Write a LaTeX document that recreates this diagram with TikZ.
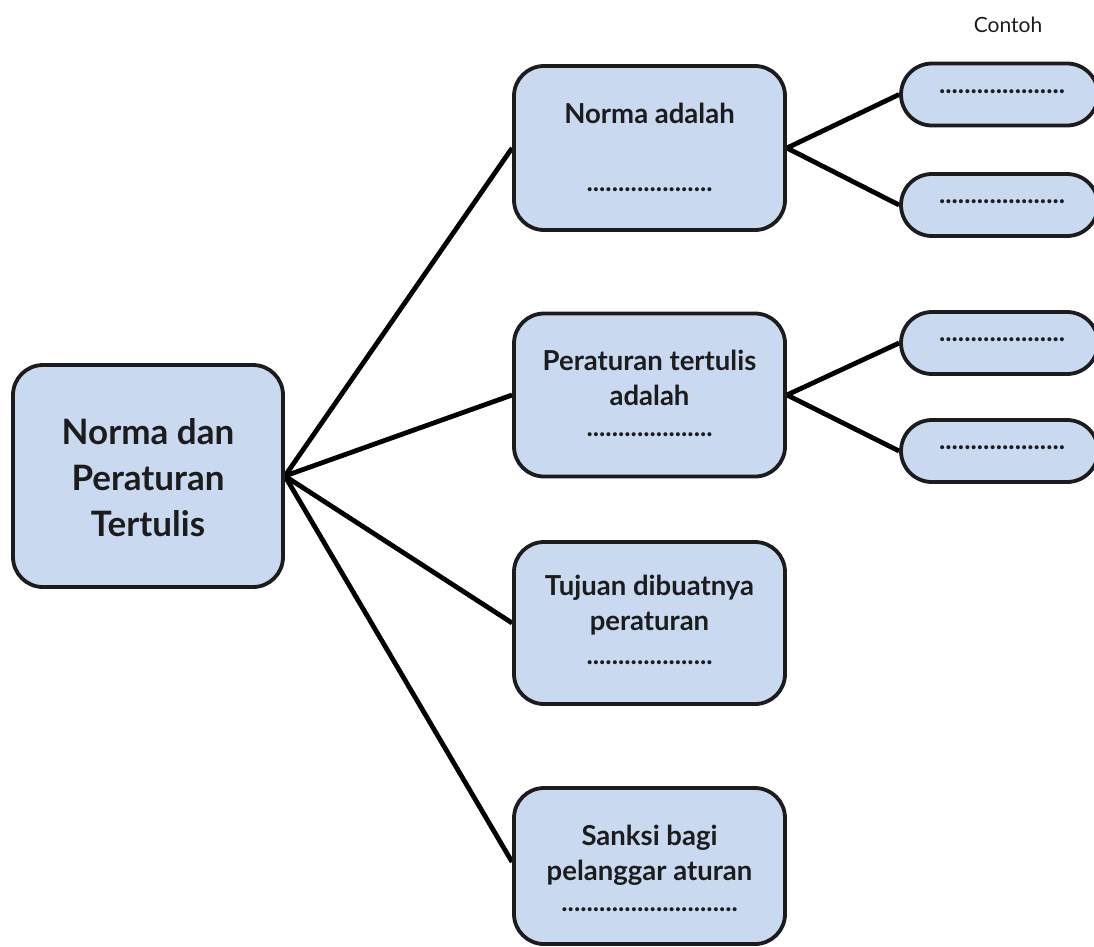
\documentclass[tikz,border=0pt]{standalone}
\usepackage{fontspec}
\setmainfont{Lato}
\usetikzlibrary{backgrounds}
\definecolor{boxfill}{HTML}{C9D9F0}
\definecolor{boxline}{HTML}{1C1C1C}
\begin{document}
\begin{tikzpicture}[x=1pt,y=-1pt,
  box/.style={draw=boxline, fill=boxfill, line width=3.8pt, rounded corners=30pt, inner sep=0pt},
  pill/.style={draw=boxline, fill=boxfill, line width=3.8pt, rounded corners=31pt, inner sep=0pt, minimum width=197pt, minimum height=62pt},
  link/.style={draw=black, line width=4.8pt},
  bigtxt/.style={font=\fontsize{35}{46}\selectfont\bfseries, text=boxline, align=center, inner sep=0pt},
  txt/.style={font=\fontsize{27.5}{35}\selectfont\bfseries, text=boxline, align=center, inner sep=0pt},
  dotstxt/.style={font=\fontsize{26.5}{30}\selectfont\bfseries, text=boxline, inner sep=0pt},
]
\useasboundingbox (0,0) rectangle (1094,946);
\node[box, minimum width=270pt, minimum height=222pt] (main) at (148,476) {};
\node[box, minimum width=271pt, minimum height=164pt] (b1) at (649.5,148) {};
\node[box, minimum width=271pt, minimum height=163pt] (b2) at (649.5,395) {};
\node[box, minimum width=271pt, minimum height=162pt] (b3) at (649.5,623) {};
\node[box, minimum width=271pt, minimum height=156pt] (b4) at (649.5,866) {};
\node[pill] (s1) at (999.5,94.5) {};
\node[pill] (s2) at (999.5,205) {};
\node[pill] (s3) at (999.5,343) {};
\node[pill] (s4) at (999.5,451) {};
\begin{scope}[on background layer]
\draw[link] (main.east) -- (b1.west);
\draw[link] (main.east) -- (b2.west);
\draw[link] (main.east) -- (b3.west);
\draw[link] (main.east) -- ([yshift=4pt]b4.west);
\draw[link] (b1.east) -- (s1.west);
\draw[link] (b1.east) -- (s2.west);
\draw[link] (b2.east) -- (s3.west);
\draw[link] (b2.east) -- (s4.west);
\end{scope}
% texts
\node[bigtxt] (mt) at (148,478) {Norma dan\\Peraturan\\Tertulis};
\node[txt] (t1) at (649.5,113) {Norma adalah};
\node[dotstxt] (d1) at (649.5,190) {....................};
\node[txt] (t2) at (649.5,378) {Peraturan tertulis\\adalah};
\node[dotstxt] (d2) at (649.5,435) {....................};
\node[txt] (t3) at (649.5,605) {Tujuan dibuatnya\\peraturan};
\node[dotstxt] (d3) at (649.5,663) {....................};
\node[txt] (t4) at (649.5,855) {Sanksi bagi\\pelanggar aturan};
\node[dotstxt] (d4) at (649.5,910) {............................};
\node[dotstxt] (e1) at (1002,92) {....................};
\node[dotstxt] (e2) at (1002,202) {....................};
\node[dotstxt] (e3) at (1002,340) {....................};
\node[dotstxt] (e4) at (1002,448) {....................};
\node[font=\fontsize{21}{24}\selectfont, text=boxline, inner sep=0pt] (contoh) at (1008,25) {Contoh};
\end{tikzpicture}
\end{document}
